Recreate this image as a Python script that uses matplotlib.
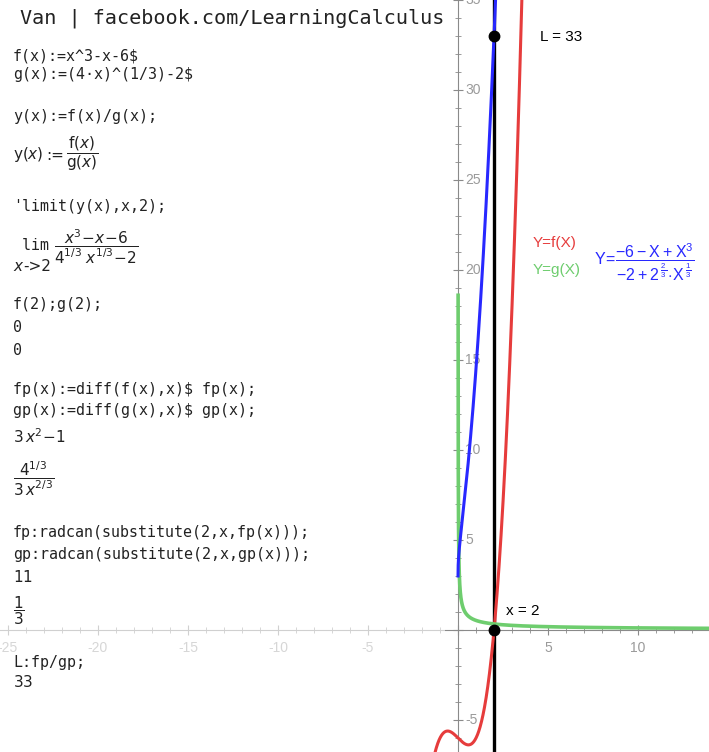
import numpy as np
import matplotlib
matplotlib.use('Agg')
import matplotlib.pyplot as plt
from matplotlib.patches import Rectangle
from matplotlib.ticker import MultipleLocator

plt.rcParams['mathtext.fontset'] = 'custom'
plt.rcParams['mathtext.rm'] = 'DejaVu Sans'
plt.rcParams['mathtext.it'] = 'DejaVu Sans:italic'
plt.rcParams['mathtext.sf'] = 'Liberation Sans'

# ---- data ----
x_limits = (-25.44, 13.94)
y_limits = (-6.78, 35.0)
x_tick_labels = [-25, -20, -15, -10, -5, 5, 10]
y_tick_labels = [-5, 5, 10, 15, 20, 25, 30, 35]
x_point = 2
L_value = 33

red_range = (-1.3, 3.8)      # f(x) = x^3 - x - 6
blue_range = (0.0, 2.3)      # y(x) = f(x)/g(x)
green_range = (0.0048, 14.0)  # g'(x) = 4^(1/3) / (3 x^(2/3))


def f(x):
    return x**3 - x - 6


def g(x):
    return np.cbrt(4 * x) - 2


def gp(x):
    return 4**(1/3) / (3 * x**(2/3))


RED = '#e63c3c'
BLUE = '#2828ff'
GREEN = '#6ecd6e'
AXC = '#8a8a8a'
INK = '#222222'

W, H = 709, 752
fig = plt.figure(figsize=(W / 100, H / 100), dpi=100)
ax = fig.add_axes([0, 0, 1, 1])
ax.set_xlim(*x_limits)
ax.set_ylim(*y_limits)

# axes through the origin
for s in ['top', 'right']:
    ax.spines[s].set_visible(False)
for s in ['left', 'bottom']:
    ax.spines[s].set_position(('data', 0))
    ax.spines[s].set_color(AXC)
ax.xaxis.set_major_locator(MultipleLocator(5))
ax.xaxis.set_minor_locator(MultipleLocator(1))
ax.yaxis.set_major_locator(MultipleLocator(5))
ax.yaxis.set_minor_locator(MultipleLocator(1))
ax.tick_params(which='major', direction='inout', length=7, color=AXC,
               labelbottom=False, labelleft=False)
ax.tick_params(which='minor', direction='inout', length=4.5, color=AXC)

for v in x_tick_labels:
    ax.text(v, -1.0, str(v), ha='center', va='center', color='#9a9a9a',
            fontsize=10, family='Liberation Sans', zorder=2)
for v in y_tick_labels:
    ax.text(0.4, v, str(v), ha='left', va='center', color='#9a9a9a',
            fontsize=10, family='Liberation Sans', zorder=2)

# faded panel over the negative side
ax.add_patch(Rectangle((x_limits[0], y_limits[0]), -0.75 - x_limits[0],
                       y_limits[1] - y_limits[0], facecolor='white',
                       alpha=0.6, lw=0, zorder=2.6))

# curves
xr = np.linspace(*red_range, 500)
ax.plot(xr, f(xr), color=RED, lw=2.2, zorder=4)
xb = np.linspace(*blue_range, 501)
ax.plot(xb, f(xb) / g(xb), color=BLUE, lw=2.2, zorder=5)
xg = np.geomspace(*green_range, 500)
ax.plot(xg, gp(xg), color=GREEN, lw=2.6, zorder=4)

ax.axvline(x_point, color='black', lw=2.4, zorder=3)
ax.plot([x_point, x_point], [L_value, 0], 'o', color='black', ms=7.5, zorder=6)


def px(x, y):
    return x / W, 1 - y / H


lab = dict(family='Liberation Sans', fontsize=11, va='center', ha='left')
fig.text(*px(540, 37), 'L = %d' % L_value, color='black', **lab)
fig.text(*px(506, 611), 'x = %d' % x_point, color='black', **lab)
fig.text(*px(533, 243), 'Y=f(X)', color=RED, **lab)
fig.text(*px(533, 270), 'Y=g(X)', color=GREEN, **lab)
fig.text(*px(594, 262),
         r'$\mathsf{Y}\!\mathsf{=}\!\dfrac{\mathsf{-6-X+X^3}}'
         r'{\mathsf{-2+2^{\,\frac{2}{3}}\!\cdot\! X^{\,\frac{1}{3}}}}$',
         color=BLUE, fontsize=11.5, va='center', ha='left')

# maxima session on the left
mono = dict(family='DejaVu Sans Mono', fontsize=10.8, va='center', ha='left',
            color=INK, zorder=10)
math = dict(fontsize=11, va='center', ha='left', color=INK, zorder=10)

fig.text(*px(20, 18), 'Van | facebook.com/LearningCalculus',
         family='DejaVu Sans Mono', fontsize=14.5, va='center', ha='left',
         color=INK)
code_lines = [
    (56, 'f(x):=x^3-x-6$'),
    (75, 'g(x):=(4·x)^(1/3)-2$'),
    (117, 'y(x):=f(x)/g(x);'),
    (207, "'limit(y(x),x,2);"),
    (245, ' lim'),
    (305, 'f(2);g(2);'),
    (327, '0'),
    (350, '0'),
    (390, 'fp(x):=diff(f(x),x)$ fp(x);'),
    (410, 'gp(x):=diff(g(x),x)$ gp(x);'),
    (533, 'fp:radcan(substitute(2,x,fp(x)));'),
    (554, 'gp:radcan(substitute(2,x,gp(x)));'),
    (663, 'L:fp/gp;'),
]
for y, s in code_lines:
    fig.text(*px(13, y), s, **mono)

# plain pieces of the rendered output
plain = dict(family='DejaVu Sans', fontsize=11, va='center', ha='left', color=INK)
fig.text(*px(13, 266), 'x', style='italic', **plain)
fig.text(*px(23, 266), '->2', **plain)
fig.text(*px(46, 155), ':=', **plain)

math_lines = [
    (13, 155, r'$\mathrm{y}(x)$'),
    (66, 154, r'$\dfrac{\mathrm{f}(x)}{\mathrm{g}(x)}$'),
    (54, 247, r'$\dfrac{x^3\!-\!x\!-\!6}{4^{1/3}\;x^{1/3}\!-\!2}$'),
    (13, 437, r'$3\,x^2\!-\!1$'),
    (13, 479, r'$\dfrac{4^{1/3}}{3\,x^{2/3}}$'),
    (13, 577, r'$11$'),
    (13, 611, r'$\dfrac{1}{3}$'),
    (13, 682, r'$33$'),
]
for x, y, s in math_lines:
    fig.text(*px(x, y), s, **math)

fig.savefig('out.png', dpi=100)
